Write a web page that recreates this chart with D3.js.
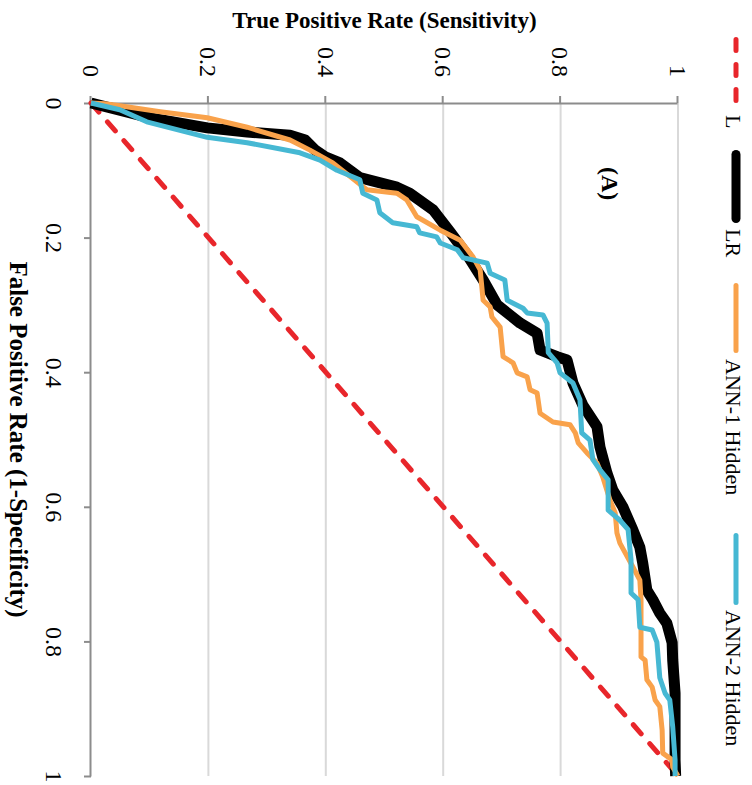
<!DOCTYPE html>
<html>
<head>
<meta charset="utf-8">
<script src="https://cdn.jsdelivr.net/npm/d3@7"></script>
<style>
  body { margin: 0; background: #fff; }
  text { font-family: "Liberation Serif", "Times New Roman", serif; }
</style>
</head>
<body>
<div id="chart"></div>
<script>
// Axis ticks
var tickValues = [0, 0.2, 0.4, 0.6, 0.8, 1];
var tickLabels = ["0", "0.2", "0.4", "0.6", "0.8", "1"];

// Series names and colours (legend order)
var seriesNames = ["L", "LR", "ANN-1 Hidden", "ANN-2 Hidden"];
var seriesColors = ["#e8262b", "#000000", "#f9a24b", "#46b8d3"];

// ROC points: [false positive rate, true positive rate]
var rocL = [[0, 0], [1, 1]];

var rocLR = [
  [0, 0], [0.007, 0.032], [0.022, 0.101], [0.037, 0.198], [0.043, 0.266],
  [0.048, 0.339], [0.055, 0.365], [0.070, 0.382], [0.080, 0.399], [0.089, 0.424],
  [0.111, 0.458], [0.125, 0.521], [0.134, 0.543], [0.159, 0.583], [0.192, 0.612],
  [0.226, 0.641], [0.263, 0.668], [0.300, 0.692], [0.327, 0.731], [0.342, 0.760],
  [0.367, 0.765], [0.377, 0.794], [0.382, 0.811], [0.416, 0.821], [0.449, 0.838],
  [0.481, 0.862], [0.511, 0.867], [0.550, 0.879], [0.575, 0.889], [0.600, 0.906],
  [0.634, 0.923], [0.660, 0.935], [0.684, 0.940], [0.724, 0.947], [0.738, 0.957],
  [0.758, 0.969], [0.773, 0.981], [0.802, 0.990], [0.828, 0.991], [0.877, 0.995],
  [0.927, 0.995], [0.976, 0.995], [1, 0.996]
];

var rocANN1 = [
  [0, 0], [0.001, 0.024], [0.004, 0.049], [0.013, 0.118], [0.022, 0.198],
  [0.036, 0.266], [0.055, 0.339], [0.070, 0.373], [0.089, 0.412], [0.129, 0.470],
  [0.134, 0.521], [0.144, 0.538], [0.169, 0.555], [0.189, 0.595], [0.204, 0.629],
  [0.229, 0.651], [0.248, 0.663], [0.293, 0.668], [0.303, 0.680], [0.318, 0.683],
  [0.333, 0.697], [0.377, 0.702], [0.386, 0.719], [0.401, 0.726], [0.407, 0.743],
  [0.426, 0.748], [0.431, 0.760], [0.461, 0.765], [0.474, 0.787], [0.478, 0.816],
  [0.490, 0.825], [0.505, 0.830], [0.520, 0.845], [0.535, 0.862], [0.556, 0.872],
  [0.590, 0.884], [0.609, 0.893], [0.639, 0.896], [0.654, 0.901], [0.689, 0.923],
  [0.709, 0.935], [0.738, 0.937], [0.823, 0.937], [0.828, 0.944], [0.857, 0.947],
  [0.868, 0.956], [0.887, 0.961], [0.897, 0.969], [0.932, 0.973], [0.966, 0.974],
  [0.976, 0.990], [0.987, 0.991], [1, 1]
];

var rocANN2 = [
  [0, 0], [0.010, 0.049], [0.028, 0.095], [0.051, 0.198], [0.059, 0.266],
  [0.074, 0.356], [0.085, 0.390], [0.100, 0.419], [0.114, 0.458], [0.134, 0.463],
  [0.144, 0.487], [0.163, 0.492], [0.178, 0.514], [0.184, 0.555], [0.193, 0.560],
  [0.199, 0.589], [0.208, 0.595], [0.218, 0.624], [0.230, 0.634], [0.238, 0.675],
  [0.253, 0.680], [0.263, 0.705], [0.293, 0.709], [0.305, 0.736], [0.312, 0.743],
  [0.315, 0.770], [0.327, 0.777], [0.371, 0.779], [0.386, 0.794], [0.401, 0.799],
  [0.416, 0.821], [0.441, 0.833], [0.490, 0.836], [0.501, 0.850], [0.530, 0.855],
  [0.545, 0.867], [0.560, 0.881], [0.605, 0.881], [0.620, 0.901], [0.634, 0.915],
  [0.679, 0.920], [0.728, 0.920], [0.738, 0.932], [0.779, 0.935], [0.783, 0.956],
  [0.801, 0.964], [0.854, 0.969], [0.877, 0.978], [0.887, 0.986], [0.927, 0.991],
  [0.976, 0.995], [1, 0.995]
];

var seriesData = [rocL, rocLR, rocANN1, rocANN2];
var seriesWidths = [5, 11, 5, 5];
var legendWidths = [5, 9, 5, 5];

// The chart is drawn landscape and then turned a quarter turn clockwise
var svgWidth = 752;
var svgHeight = 785;

var svg = d3.select("#chart")
  .append("svg")
  .attr("width", svgWidth)
  .attr("height", svgHeight);

var chart = svg.append("g")
  .attr("transform", `translate(${svgWidth}, 0) rotate(90)`);

// Scales in the unrotated frame
var xScale = d3.scaleLinear().domain([0, 1]).range([103, 776]);
var yScale = d3.scaleLinear().domain([0, 1]).range([661, 74]);

// Gridlines at true positive rate ticks
chart.append("g")
  .selectAll("line")
  .data(tickValues.slice(1))
  .enter()
  .append("line")
  .attr("x1", xScale(0))
  .attr("x2", xScale(1))
  .attr("y1", d => yScale(d))
  .attr("y2", d => yScale(d))
  .attr("stroke", "#d9d9d9")
  .attr("stroke-width", 2);

// Axes
var bottomAxis = d3.axisBottom(xScale)
  .tickValues(tickValues)
  .tickFormat((d, i) => tickLabels[i])
  .tickSize(7)
  .tickSizeOuter(0)
  .tickPadding(21);

var leftAxis = d3.axisLeft(yScale)
  .tickValues(tickValues)
  .tickFormat((d, i) => tickLabels[i])
  .tickSize(7)
  .tickSizeOuter(0)
  .tickPadding(19);

var gx = chart.append("g")
  .attr("transform", `translate(0, ${yScale(0)})`)
  .call(bottomAxis);

var gy = chart.append("g")
  .attr("transform", `translate(${xScale(0)}, 0)`)
  .call(leftAxis);

[gx, gy].forEach(function(g) {
  g.select(".domain").attr("stroke", "#8c8c8c").attr("stroke-width", 2);
  g.selectAll(".tick line").attr("stroke", "#8c8c8c").attr("stroke-width", 2);
  g.selectAll(".tick text")
    .attr("fill", "#000")
    .style("font-family", "'Liberation Serif', serif")
    .style("font-size", "24px");
});

// ROC curves
var line = d3.line()
  .x(d => xScale(d[0]))
  .y(d => yScale(d[1]));

seriesData.forEach(function(data, i) {
  chart.append("path")
    .datum(data)
    .attr("d", line)
    .attr("fill", "none")
    .attr("stroke", seriesColors[i])
    .attr("stroke-width", seriesWidths[i])
    .attr("stroke-linejoin", "round")
    .attr("stroke-linecap", i == 0 ? "round" : "butt")
    .attr("stroke-dasharray", i == 0 ? "12,13" : null);
});

// Axis titles
chart.append("text")
  .attr("x", (xScale(0) + xScale(1)) / 2)
  .attr("y", 742)
  .attr("text-anchor", "middle")
  .style("font-weight", "bold")
  .style("font-size", "25px")
  .text("False Positive Rate (1-Specificity)");

chart.append("text")
  .attr("transform", `translate(28, ${(yScale(0) + yScale(1)) / 2}) rotate(-90)`)
  .attr("text-anchor", "middle")
  .style("font-weight", "bold")
  .style("font-size", "23px")
  .text("True Positive Rate (Sensitivity)");

// Panel label
chart.append("text")
  .attr("x", 167)
  .attr("y", 150)
  .style("font-weight", "bold")
  .style("font-size", "24px")
  .text("(A)");

// Legend across the top of the unrotated frame
var legendLines = [[39.5, 100.5], [154.5, 218.5], [285.5, 350.5], [535.5, 602.5]];
var legendText = [115, 229, 359, 610];

var legend = chart.append("g");

seriesNames.forEach(function(name, i) {
  legend.append("line")
    .attr("x1", legendLines[i][0])
    .attr("x2", legendLines[i][1])
    .attr("y1", 16)
    .attr("y2", 16)
    .attr("stroke", seriesColors[i])
    .attr("stroke-width", legendWidths[i])
    .attr("stroke-linecap", "round")
    .attr("stroke-dasharray", i == 0 ? "11,14" : null);

  legend.append("text")
    .attr("x", legendText[i])
    .attr("y", 26)
    .style("font-size", "22px")
    .text(name);
});
</script>
</body>
</html>
